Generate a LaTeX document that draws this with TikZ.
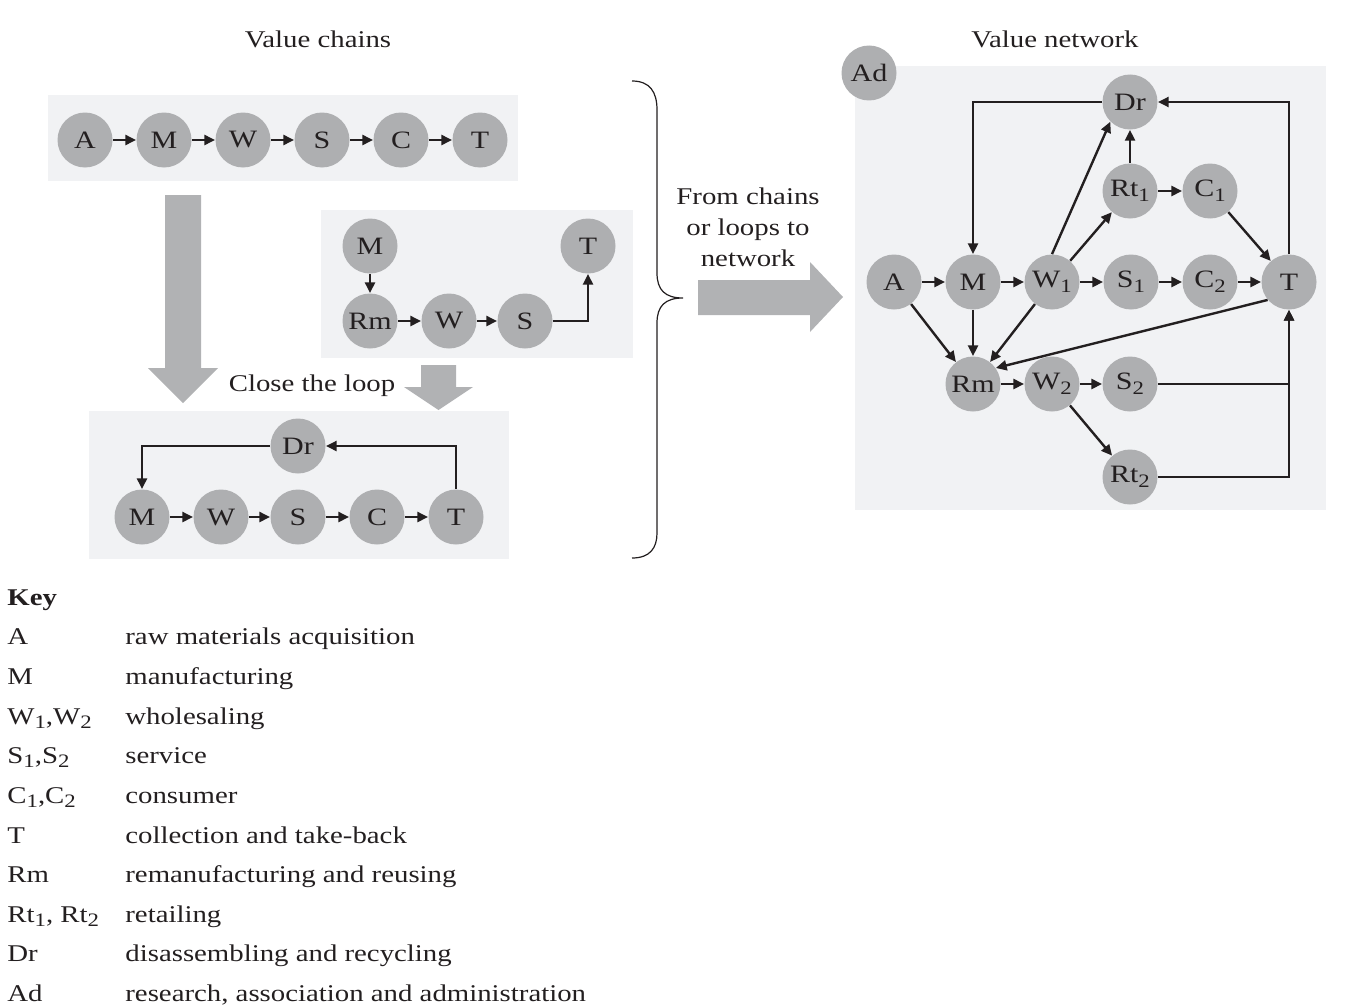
\documentclass[tikz,border=0pt]{standalone}
\usepackage{fontspec}
\setmainfont{Liberation Serif}[FakeStretch=1.2]
\usetikzlibrary{arrows.meta}
\definecolor{nodegray}{HTML}{AEAFB1}
\definecolor{boxgray}{HTML}{F1F2F4}
\definecolor{arrowgray}{HTML}{B1B2B4}
\definecolor{ink}{HTML}{231F20}
\newcommand{\lowsub}[1]{\raisebox{-0.45ex}{\fontsize{9.5}{10}\selectfont #1}}
\begin{document}
\begin{tikzpicture}[x=0.5pt,y=-0.5pt,
  nd/.style={circle, fill=nodegray, minimum size=27.5pt, inner sep=0pt, font=\fontsize{12.5}{14}\selectfont, text=ink},
  arr/.style={draw=ink, line width=1.2pt, -{Triangle[length=5.4pt,width=5pt]}},
  panel/.style={fill=boxgray, draw=none},
  bigarrow/.style={fill=arrowgray, draw=none},
  lbl/.style={font=\fontsize{12}{15.5}\selectfont, text=ink, inner sep=0pt},
  keytxt/.style={font=\fontsize{12}{14}\selectfont, anchor=base west, inner sep=0pt, text=ink}]
\useasboundingbox (0,0) rectangle (1368,1006);

% panels
\path[panel] (48,95) rectangle (518,181);
\path[panel] (321,210) rectangle (633,358);
\path[panel] (89,411) rectangle (509,559);
\path[panel] (855,66) rectangle (1326,510);

% big grey arrows
\path[bigarrow] (165,195) -- (201,195) -- (201,368) -- (218,368) -- (183,403) -- (148,368) -- (165,368) -- cycle;
\path[bigarrow] (421,365) -- (456,365) -- (456,387) -- (473,387) -- (438.5,410) -- (404,387) -- (421,387) -- cycle;
\path[bigarrow] (698,280) -- (810,280) -- (810,262) -- (843,297) -- (810,332) -- (810,315) -- (698,315) -- cycle;

% brace
\draw[ink, line width=0.6pt] (632,81) .. controls (650,81) and (657,92) .. (657,110) -- (657,273)
  .. controls (657,290) and (665,298) .. (683,298) .. controls (665,298) and (657,306) .. (657,323)
  -- (657,533) .. controls (657,548) and (650,558) .. (632,558);

% titles
\node[lbl] (title1) at (318,39) {Value chains};
\node[lbl] (title2) at (1055,39) {Value network};
\node[lbl] (close) at (312,386) {Close the loop};
\node[lbl, align=center] (from) at (748,227) {From chains\\or loops to\\network};

% top chain
\node[nd] (ta) at (85,140) {A};
\node[nd] (tm) at (164,140) {M};
\node[nd] (tw) at (243,140) {W};
\node[nd] (ts) at (322,140) {S};
\node[nd] (tc) at (401,140) {C};
\node[nd] (tt) at (480,140) {T};
\draw[arr] (ta) -- (tm);
\draw[arr] (tm) -- (tw);
\draw[arr] (tw) -- (ts);
\draw[arr] (ts) -- (tc);
\draw[arr] (tc) -- (tt);

% middle
\node[nd] (mm) at (370,246) {M};
\node[nd] (mt) at (588,246) {T};
\node[nd] (mrm) at (370,321) {Rm};
\node[nd] (mw) at (449,321) {W};
\node[nd] (ms) at (525,321) {S};
\draw[arr] (mm) -- (mrm);
\draw[arr] (mrm) -- (mw);
\draw[arr] (mw) -- (ms);
\draw[arr] (ms) -| (mt);

% bottom loop
\node[nd] (bdr) at (298,446) {Dr};
\node[nd] (bm) at (142,517) {M};
\node[nd] (bw) at (221,517) {W};
\node[nd] (bs) at (298,517) {S};
\node[nd] (bc) at (377,517) {C};
\node[nd] (bt) at (456,517) {T};
\draw[arr] (bm) -- (bw);
\draw[arr] (bw) -- (bs);
\draw[arr] (bs) -- (bc);
\draw[arr] (bc) -- (bt);
\draw[arr] (bdr) -| (bm);
\draw[arr] (bt) |- (bdr);

% network
\node[nd] (nad) at (869,73) {Ad};
\node[nd] (ndr) at (1130,102) {Dr};
\node[nd] (nrt1) at (1130,191) {Rt\lowsub{1}};
\node[nd] (nc1) at (1210,191) {C\lowsub{1}};
\node[nd] (na) at (894,282) {A};
\node[nd] (nm) at (973,282) {M};
\node[nd] (nw1) at (1052,282) {W\lowsub{1}};
\node[nd] (ns1) at (1131,282) {S\lowsub{1}};
\node[nd] (nc2) at (1210,282) {C\lowsub{2}};
\node[nd] (nt) at (1289,282) {T};
\node[nd] (nrm) at (973,384) {Rm};
\node[nd] (nw2) at (1052,384) {W\lowsub{2}};
\node[nd] (ns2) at (1130,384) {S\lowsub{2}};
\node[nd] (nrt2) at (1130,477) {Rt\lowsub{2}};

\draw[arr] (na) -- (nm);
\draw[arr] (nm) -- (nw1);
\draw[arr] (nw1) -- (ns1);
\draw[arr] (ns1) -- (nc2);
\draw[arr] (nc2) -- (nt);
\draw[arr] (ndr) -| (nm);
\draw[arr] (nt) |- (ndr);
\draw[arr] (nw1.north) -- (ndr.south west);
\draw[arr] (nw1) -- (nrt1);
\draw[arr] (nrt1) -- (ndr);
\draw[arr] (nrt1) -- (nc1);
\draw[arr] (nc1) -- (nt);
\draw[arr] (na) -- (nrm);
\draw[arr] (nm) -- (nrm);
\draw[arr] (nw1) -- (nrm);
\draw[arr] (nt.220) -- (nrm.35);
\draw[arr] (nrm) -- (nw2);
\draw[arr] (nw2) -- (ns2);
\draw[arr] (nw2) -- (nrt2);
\draw[arr] (ns2) -| (nt);
\draw[arr] (nrt2) -| (nt);

% key
\node[keytxt, font=\fontsize{12}{14}\selectfont\bfseries] (keyhead) at (7,605) {Key};
\node[keytxt] (k1a) at (7,644) {A};
\node[keytxt] (k1b) at (125,644) {raw materials acquisition};
\node[keytxt] (k2a) at (7,684) {M};
\node[keytxt] (k2b) at (125,684) {manufacturing};
\node[keytxt] (k3a) at (7,724) {W\lowsub{1},W\lowsub{2}};
\node[keytxt] (k3b) at (125,724) {wholesaling};
\node[keytxt] (k4a) at (7,763) {S\lowsub{1},S\lowsub{2}};
\node[keytxt] (k4b) at (125,763) {service};
\node[keytxt] (k5a) at (7,803) {C\lowsub{1},C\lowsub{2}};
\node[keytxt] (k5b) at (125,803) {consumer};
\node[keytxt] (k6a) at (7,843) {T};
\node[keytxt] (k6b) at (125,843) {collection and take-back};
\node[keytxt] (k7a) at (7,882) {Rm};
\node[keytxt] (k7b) at (125,882) {remanufacturing and reusing};
\node[keytxt] (k8a) at (7,922) {Rt\lowsub{1}, Rt\lowsub{2}};
\node[keytxt] (k8b) at (125,922) {retailing};
\node[keytxt] (k9a) at (7,961) {Dr};
\node[keytxt] (k9b) at (125,961) {disassembling and recycling};
\node[keytxt] (k10a) at (7,1001) {Ad};
\node[keytxt] (k10b) at (125,1001) {research, association and administration};
\end{tikzpicture}
\end{document}
